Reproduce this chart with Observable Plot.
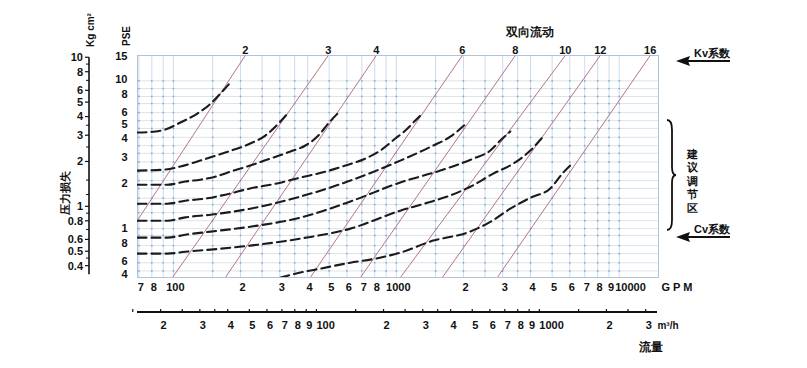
<!DOCTYPE html>
<html><head><meta charset="utf-8">
<script src="https://cdn.jsdelivr.net/npm/d3@7"></script>
<script src="https://cdn.jsdelivr.net/npm/@observablehq/plot@0.6"></script>
<style>
body{margin:0;background:#fff;}
#chart{width:807px;height:368px;overflow:hidden;}
</style></head><body><div id="chart"></div>
<script>
// ---------------- data ----------------
const FONT = "Liberation Sans, Arial, sans-serif";
const gpmMin = 69, gpmMax = 15000;          // flow axis extent (GPM)
const psiBottom = 0.47, psiTop = 14.5;      // pressure-drop axis extent (PSE)
const KG_TO_PSE_AXIS = 1.4;                 // where the Kg/cm² scale sits on the PSE scale
const GPM_PER_M3H = 4.403;

// valve lines (双向流动): size label, GPM at top edge, GPM at bottom edge
const valveSizes  = ["2", "3", "4", "6", "8", "10", "12", "16"];
const kvTopGpm    = [210, 495, 813, 1977, 3417, 5725, 8219, 13772];
const kvBottomGpm = [46.9, 99, 171, 411, 690, 1042, 1608, 2838];

// dashed curves [GPM, PSE], one per valve size
const curve2  = [[69,4.41],[83,4.48],[92,4.62],[107.5,5.15],[128,5.91],[147,6.9],[162.5,8.05],[180,9.55]];
const curve3  = [[69,2.45],[92,2.49],[107.5,2.61],[132,2.86],[171,3.24],[221,3.72],[258.5,4.21],[296,5.07],[328,6.0]];
const curve4  = [[69,1.97],[94,1.97],[113,2.07],[132,2.13],[154,2.23],[180,2.41],[221,2.65],[272,2.95],[335,3.29],[391,3.61],[447,4.21],[495,5.07],[550,6.0]];
const curve6  = [[69,1.47],[94,1.47],[113,1.54],[139,1.59],[171,1.69],[221,1.86],[287,2.0],[371,2.2],[480,2.41],[591,2.65],[726,2.95],[848,3.34],[990,4.02],[1098,4.55],[1217,5.31],[1308,5.91]];
const curve8  = [[69,1.13],[94,1.13],[113,1.19],[147,1.24],[221,1.36],[371,1.64],[622,2.10],[1042,2.86],[1465,3.61],[1747,4.14],[2082,5.15]];
const curve10 = [[69,0.87],[94,0.87],[113,0.91],[147,0.955],[221,1.03],[371,1.185],[622,1.52],[1042,2.04],[1575,2.45],[2214,2.95],[2640,3.34],[2927,3.9],[3245,4.48]];
const curve12 = [[69,0.68],[94,0.68],[113,0.70],[147,0.723],[221,0.769],[371,0.857],[622,1.0],[1042,1.32],[1377,1.49],[1747,1.67],[2147,1.91],[2723,2.34],[3348,2.73],[3990,3.34],[4515,4.08]];
const curve16 = [[302,0.469],[371,0.507],[456,0.539],[622,0.591],[805,0.629],[1042,0.69],[1465,0.831],[2082,0.94],[2640,1.11],[3245,1.36],[3990,1.61],[4905,1.86],[5610,2.38],[6155,2.73]];

// grid
const gpmGrid = [70,80,90,100,150,200,250,300,350,400,500,600,700,800,900,1000,1500,2000,2500,3000,3500,4000,5000,6000,7000,8000,9000,10000];
const psiGrid = [9.8,8.7,7.7,6.9,6,5.3,4.7,4.1,3.6,3.2,2.8,2.4,2.1,1.86,1.6,1.45,1.28,1.13,1,0.9,0.77,0.68,0.59,0.52];

// tick labels
const gpmTickValues = [70,80,100,200,300,400,500,600,700,800,1000,2000,3000,4000,5000,6000,7000,8000,9000,10000];
const gpmTickLabels = ["7","8","100","2","3","4","5","6","7","8","1000","2","3","4","5","6","7","8","9","10000"];
const psiTickValues = [14.3,10,8,6,5,4,3,2,1,0.8,0.6,0.49];
const psiTickLabels = ["15","10","8","6","5","4","3","2","1","8","6","4"];
const kgTickValues  = [10,8,6,5,4,3,2,1,0.8,0.6,0.5,0.4];
const kgTickLabels  = ["10","8","6","5","4","3","2","1","0.8","0.6","0.5","0.4"];
const kgMinorTicks  = [9,7,3.5,2.5,1.5,1.2,0.9,0.7,0.45];
const kgAxisEnds    = [10, 0.35];
const m3TickValues  = [20,30,40,50,60,70,80,90,100,200,300,400,500,600,700,800,900,1000,2000,3000];
const m3TickLabels  = ["2","3","4","5","6","7","8","9","100","2","3","4","5","6","7","8","9","1000","2","3"];
const m3MinorTicks  = [15,25,35,150,250,350,1500,2500];

// ---------------- tables ----------------
const kvTable = valveSizes.map((s,i)=>({size:s, top:kvTopGpm[i], bottom:kvBottomGpm[i]}));
const gpmTable = gpmTickValues.map((v,i)=>({v, label:gpmTickLabels[i]}));
const psiTable = psiTickValues.map((v,i)=>({v, label:psiTickLabels[i]}));
const gridPts = d3.cross(gpmGrid, psiGrid).map(([x,y])=>({x,y}));
const curves = [curve2, curve3, curve4, curve6, curve8, curve10, curve12, curve16];

const bold = {fontWeight:"bold", fontSize:11, fill:"#111"};

const plot = Plot.plot({
  width: 807, height: 368,
  marginLeft: 137, marginRight: 149, marginTop: 55, marginBottom: 91,
  x: {type:"log", domain:[gpmMin, gpmMax], axis:null},
  y: {type:"log", domain:[psiBottom, psiTop], axis:null},
  style: {fontFamily: FONT, fontSize:"11px", background:"#fff", overflow:"visible"},
  marks: [
    Plot.ruleX(gpmGrid, {stroke:"#bcd3ea", strokeWidth:0.8}),
    Plot.ruleY(psiGrid, {stroke:"#d2dce6", strokeWidth:0.8}),
    Plot.dot(gridPts, {x:"x", y:"y", r:0.9, fill:"#5b80b5", fillOpacity:0.6, stroke:null}),
    Plot.frame({stroke:"#a9bdd2", strokeWidth:0.9}),
    Plot.link(kvTable, {x1:"top", y1:psiTop, x2:"bottom", y2:psiBottom, stroke:"#a8677a", strokeWidth:0.9, clip:true}),
    ...curves.map(c => Plot.line(c, {x:d=>d[0], y:d=>d[1], stroke:"#1b1b1b", strokeWidth:2.1, strokeDasharray:"9,5", curve:"monotone-x", clip:true})),
    Plot.text(kvTable, {x:"top", frameAnchor:"top", dy:-9, text:"size", ...bold}),
    Plot.text(gpmTable.filter(d=>d.v<10000), {x:"v", frameAnchor:"bottom", dy:13, dx:2, text:"label", ...bold}),
    Plot.text(gpmTable.filter(d=>d.v>=10000), {x:"v", frameAnchor:"bottom", dy:13, dx:-4, textAnchor:"start", text:"label", ...bold}),
    Plot.text(["G P M"], {frameAnchor:"bottom-right", dx:3, dy:13, textAnchor:"start", ...bold}),
    Plot.text(psiTable, {y:"v", frameAnchor:"left", dx:-10, textAnchor:"end", text:"label", ...bold})
  ]
});
document.getElementById("chart").appendChild(plot);

// ---------- extra axes & annotations, positioned with Plot's scales ----------
const svg = d3.select(plot);
const sx = plot.scale("x"), sy = plot.scale("y");
const X = d3.scaleLog(sx.domain, sx.range);
const Y = d3.scaleLog(sy.domain, sy.range);
const [fl, fr] = sx.range;
const [fb, ft] = sy.range;
const g = svg.append("g").attr("font-family", FONT).attr("font-weight","bold").attr("font-size",11).attr("fill","#111");

// Kg/cm² axis
const kx = fl - 48;
g.append("line").attr("x1",kx).attr("x2",kx)
  .attr("y1",Y(kgAxisEnds[0]*KG_TO_PSE_AXIS)).attr("y2",Y(kgAxisEnds[1]*KG_TO_PSE_AXIS))
  .attr("stroke","#111").attr("stroke-width",1.6);
kgTickValues.forEach((k,i)=>{
  const y = Y(k*KG_TO_PSE_AXIS);
  g.append("line").attr("x1",kx-4).attr("x2",kx).attr("y1",y).attr("y2",y).attr("stroke","#111").attr("stroke-width",1.2);
  g.append("text").attr("x",kx-6).attr("y",y).attr("dy","0.35em").attr("text-anchor","end").text(kgTickLabels[i]);
});
kgMinorTicks.forEach(k=>{
  const y = Y(k*KG_TO_PSE_AXIS);
  g.append("line").attr("x1",kx-3).attr("x2",kx).attr("y1",y).attr("y2",y).attr("stroke","#111").attr("stroke-width",1);
});

// m³/h axis
const my = fb + 35;
g.append("line").attr("x1",fl).attr("x2",fr-1).attr("y1",my).attr("y2",my).attr("stroke","#111").attr("stroke-width",1.8);
m3TickValues.concat(m3MinorTicks).forEach(v=>{
  const x = X(v*GPM_PER_M3H);
  g.append("line").attr("x1",x).attr("x2",x).attr("y1",my-3).attr("y2",my).attr("stroke","#111").attr("stroke-width",1.2);
});
m3TickValues.forEach((v,i)=>{
  const x = X(v*GPM_PER_M3H);
  const multi = m3TickLabels[i].length > 1;
  g.append("text").attr("x", multi ? x : x+3).attr("y",my+13).attr("dy","0.35em")
    .attr("text-anchor", multi ? "start" : "middle").text(m3TickLabels[i]);
});
g.append("text").attr("x",fr+10).attr("y",my+13).attr("dy","0.35em").attr("font-size",10).text("m³/h");
g.append("text").attr("x",fr-7).attr("y",my+35).attr("dy","0.35em").attr("text-anchor","middle").attr("font-size",12).text("流量");

// left titles
g.append("text").attr("transform",`translate(${fl-72},${(ft+fb)/2+27}) rotate(-90)`).attr("text-anchor","middle").attr("dy","0.35em").attr("fill","#111").text("压力损失");
g.append("text").attr("transform",`translate(${kx+1},${ft-25}) rotate(-90)`).attr("text-anchor","middle").attr("dy","0.35em").attr("font-size",10).text("Kg cm²");
g.append("text").attr("transform",`translate(${fl-11},${ft-19}) rotate(-90)`).attr("text-anchor","middle").attr("dy","0.35em").attr("font-size",10).text("PSE");

// top title
g.append("text").attr("x",fl+393).attr("y",ft-23).attr("dy","0.35em").attr("text-anchor","middle").attr("font-size",12).text("双向流动");

// right annotations
function arrow(y, label){
  g.append("line").attr("x1",fr+26).attr("x2",fr+72).attr("y1",y).attr("y2",y).attr("stroke","#111").attr("stroke-width",1.8);
  g.append("path").attr("d",`M${fr+18},${y} L${fr+32},${y-5} L${fr+30},${y} L${fr+32},${y+5} Z`).attr("fill","#111");
  g.append("text").attr("x",fr+36).attr("y",y-4).attr("text-anchor","start").text(label);
}
arrow(ft+6, "Kv系数");
arrow(fb-40, "Cv系数");

// brace
const by1 = ft+65, by2 = fb-47, bym = (by1+by2)/2, bx = fr+12;
g.append("path").attr("d",
  `M${bx-3},${by1} Q${bx+2},${by1} ${bx+2},${by1+10} L${bx+2},${bym-8} Q${bx+2},${bym} ${bx+6},${bym} Q${bx+2},${bym} ${bx+2},${bym+8} L${bx+2},${by2-10} Q${bx+2},${by2} ${bx-3},${by2}`)
  .attr("fill","none").attr("stroke","#111").attr("stroke-width",1.8);
Array.from("建议调节区").forEach((ch,i)=>{
  g.append("text").attr("x",fr+34).attr("y",ft+99+i*13.5).attr("dy","0.35em").attr("text-anchor","middle").text(ch);
});
</script>
</body></html>
